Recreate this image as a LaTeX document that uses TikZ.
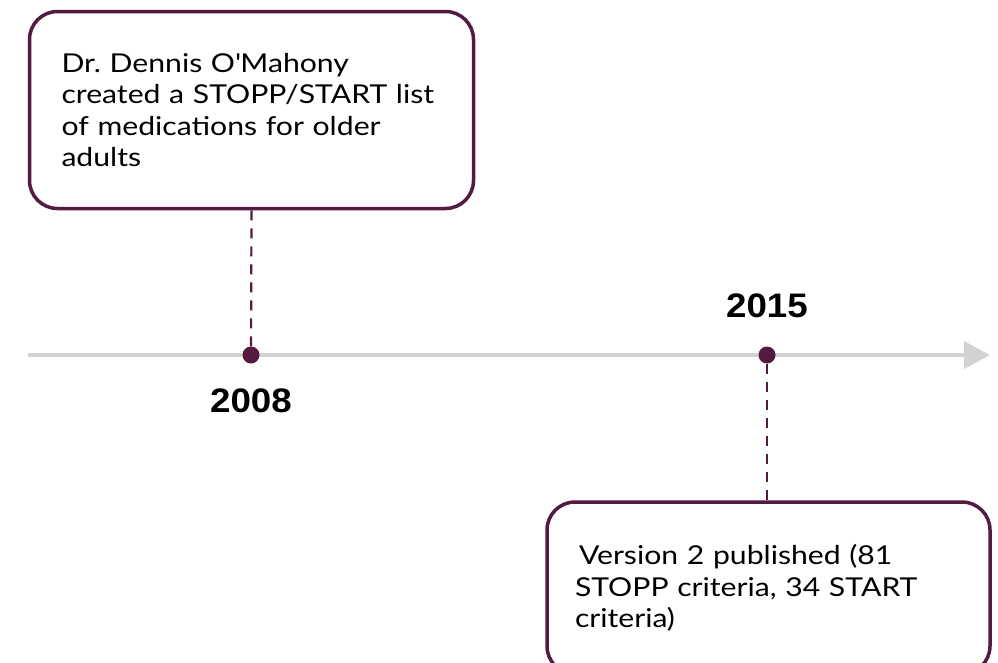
\documentclass[tikz,border=0pt]{standalone}
\usepackage{fontspec}
\setmainfont{Lato}[FakeStretch=1.16]
\newfontfamily\yearfont{Liberation Sans}[FakeStretch=1.08]
\usepackage{xcolor}
\usepackage{tikz}
\usetikzlibrary{arrows.meta, positioning}

\definecolor{plum}{HTML}{521B3F}
\definecolor{railgray}{HTML}{D3D2D3}

\begin{document}
\begin{tikzpicture}[x=1pt, y=1pt,
			event/.style={draw=plum, line width=3.5pt, fill=white, rounded corners=28pt, rectangle, align=left, inner ysep=0pt, font=\fontsize{26}{31.5}\selectfont},
			milestone/.style={circle, fill=plum, minimum size=17pt, inner sep=0pt},
			year/.style={inner sep=0pt, font=\yearfont\bfseries\fontsize{34}{36}\selectfont},
			rail/.style={draw=railgray, line width=4pt, -{Triangle[length=26pt, width=27pt]}},
			guide/.style={draw=plum, line width=2.2pt, dash pattern=on 10pt off 8pt}
			]
			\clip (0,0) rectangle (998,-662);
			\coordinate (t0) at (28,-355);
			\coordinate (t1) at (990,-355);
			\draw[rail] (t0) -- (t1);

			\node [milestone](d2008) at (251,-355) {};
			\node [milestone](d2015) at (767,-355) {};
			\node [year](y2008) [below=24.5pt of d2008] {2008};
			\node [year](y2015) [above=28.5pt of d2015] {2015};

			\node [event, minimum width=444pt, minimum height=197pt, text width=380pt, inner xsep=32pt](e2008) at (251.5,-110) {Dr.\ Dennis O\textquotesingle Mahony\\created a STOPP/START list\\of medications for older\\adults};
			\node [event, minimum width=443pt, minimum height=172pt, text width=387pt, inner xsep=28pt](e2015) at (768.5,-588) {\hspace*{4pt}Version 2 published (81\\STOPP criteria, 34 START\\criteria)};

			\draw[guide] (e2008.south) -- (d2008);
			\draw[guide] (d2015) -- (d2015 |- e2015.north);
		\end{tikzpicture}
\end{document}
